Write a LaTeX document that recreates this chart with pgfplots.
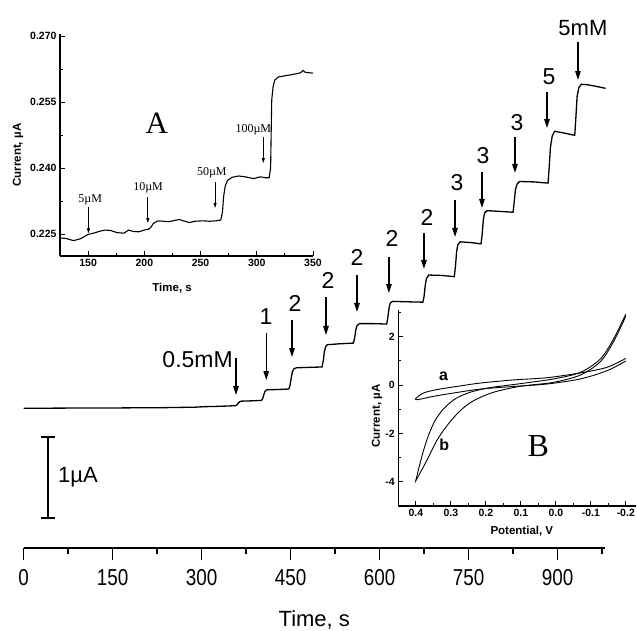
\documentclass[border=0pt]{standalone}
\usepackage{fontspec}
\setmainfont{Liberation Sans}
\newfontfamily\tnr{Liberation Serif}
\usepackage{graphicx}
\usepackage{pgfplots}
\pgfplotsset{compat=1.18}
\usetikzlibrary{arrows.meta}
\pgfplotsset{/pgf/number format/assume math mode=true}
\newcommand{\fbig}{\fontsize{23}{23}\selectfont}
\newcommand{\fsmall}{\fontsize{10.5}{10.5}\selectfont\bfseries}
\newcommand{\flab}{\fontsize{11.5}{11.5}\selectfont\bfseries}
\newcommand{\fnote}{\tnr\fontsize{12}{12}\selectfont}
\begin{document}
\begin{tikzpicture}[x=1pt,y=1pt]
\path[use as bounding box] (0,0) rectangle (637,631);

% main amperometric trace
\begin{axis}[
  at={(23.6pt,83pt)}, anchor=south west,
  scale only axis, width=581.4pt, height=548pt,
  xmin=0, xmax=980, ymin=-1.725, ymax=5.041,
  axis x line=bottom, axis y line=none,
  axis line style={-, line width=2.2pt},
  xtick={0,150,...,900}, minor xtick={75,225,...,975},
  tick align=outside, major tick length=12pt, minor tick length=6pt,
  every tick/.style={line width=1.6pt, black},
  xticklabel={\scalebox{0.82}[1]{\pgfmathprintnumber{\tick}}},
  xticklabel style={font=\fbig, anchor=center, yshift=-18pt},
  xlabel={Time, s},
  xlabel style={font=\fontsize{22}{22}\selectfont, anchor=center, at={(axis description cs:0.5,0)}, yshift=-72pt},
  clip=false,
]
\addplot[black, line width=1.3pt] coordinates {
  (0,0) (60,0.002) (150,0.004) (240,0.008) (290,0.014) (305,0.02) (320,0.022)
  (340,0.027) (357,0.032) (360,0.045) (362,0.065) (364,0.08) (367,0.088)
  (385,0.092) (401,0.097) (403,0.12) (405,0.17) (407,0.21) (410,0.228)
  (430,0.232) (447,0.238) (449,0.28) (451,0.37) (453,0.45) (456,0.49)
  (460,0.50) (480,0.505) (503,0.51) (505,0.58) (507,0.70) (509,0.76)
  (512,0.785) (530,0.795) (556,0.805) (558,0.87) (560,0.97) (562,1.02)
  (566,1.045) (590,1.045) (612,1.04) (614,1.12) (616,1.24) (618,1.30)
  (622,1.32) (645,1.315) (673,1.31) (675,1.38) (677,1.52) (679,1.60)
  (683,1.645) (705,1.64) (726,1.625) (728,1.76) (730,1.94) (732,2.02)
  (736,2.055) (755,2.045) (771,2.03) (773,2.15) (775,2.33) (777,2.41)
  (781,2.44) (805,2.43) (825,2.42) (827,2.55) (829,2.70) (832,2.77)
  (836,2.80) (860,2.795) (884,2.78) (886,2.98) (888,3.22) (891,3.36)
  (895,3.42) (910,3.40) (929,3.37) (931,3.60) (933,3.85) (936,3.96)
  (940,4.00) (950,3.995) (965,3.975) (981,3.95)
};
% additions
\tikzset{addarr/.style={-{Triangle[length=9pt,width=5.5pt]}, line width=1.3pt}}
\draw[addarr] (axis cs:358,0.621) -- (axis cs:358,0.164);
\draw[addarr] (axis cs:409,0.930) -- (axis cs:409,0.349);
\draw[addarr] (axis cs:452.4,1.09) -- (axis cs:452.4,0.633);
\draw[addarr] (axis cs:509.7,1.374) -- (axis cs:509.7,0.905);
\draw[addarr] (axis cs:561.9,1.646) -- (axis cs:561.9,1.189);
\draw[addarr] (axis cs:615.8,1.868) -- (axis cs:615.8,1.423);
\draw[addarr] (axis cs:674.8,2.164) -- (axis cs:674.8,1.72);
\draw[addarr] (axis cs:727.2,2.57) -- (axis cs:727.2,2.115);
\draw[addarr] (axis cs:772.6,2.917) -- (axis cs:772.6,2.473);
\draw[addarr] (axis cs:828.2,3.35) -- (axis cs:828.2,2.905);
\draw[addarr] (axis cs:882.2,3.905) -- (axis cs:882.2,3.46);
\draw[addarr] (axis cs:934.4,4.522) -- (axis cs:934.4,4.053);
\node[font=\fbig, anchor=east, inner sep=0pt] at (axis cs:352.9,0.597) {0.5mM};
\node[font=\fbig] at (axis cs:408.7,1.127) {1};
\node[font=\fbig] at (axis cs:457.4,1.30) {2};
\node[font=\fbig] at (axis cs:513,1.584) {2};
\node[font=\fbig] at (axis cs:561.9,1.856) {2};
\node[font=\fbig] at (axis cs:620.9,2.10) {2};
\node[font=\fbig] at (axis cs:679.9,2.35) {2};
\node[font=\fbig] at (axis cs:730.4,2.79) {3};
\node[font=\fbig] at (axis cs:774.3,3.12) {3};
\node[font=\fbig] at (axis cs:831.6,3.53) {3};
\node[font=\fbig] at (axis cs:885.5,4.10) {5};
\node[font=\fontsize{22}{22}\selectfont] at (axis cs:942.8,4.695) {5mM};
% scale bar
\draw[line width=1.5pt] (axis cs:41.1,-0.354) -- (axis cs:41.1,-1.354);
\draw[line width=1.5pt] (axis cs:29.3,-0.354) -- (axis cs:52.9,-0.354);
\draw[line width=1.5pt] (axis cs:29.3,-1.354) -- (axis cs:52.9,-1.354);
\node[font=\fontsize{22}{22}\selectfont, anchor=west, inner sep=0pt] at (axis cs:58,-0.848) {1µA};
\end{axis}

% inset A
\begin{axis}[
  at={(60pt,375pt)}, anchor=south west,
  scale only axis, width=253pt, height=222pt,
  xmin=125, xmax=350, ymin=0.220, ymax=0.2705,
  axis x line=bottom, axis y line=left,
  axis line style={-, line width=1.1pt},
  xtick={150,200,...,350}, minor xtick={175,225,...,325},
  ytick={0.225,0.240,0.255,0.270}, minor ytick={0.2325,0.2475,0.2625},
  tick align=inside, major tick length=4.5pt, minor tick length=2.5pt,
  every tick/.style={line width=1pt, black},
  scaled y ticks=false,
  ticklabel style={font=\fsmall},
  yticklabel style={/pgf/number format/fixed, /pgf/number format/precision=3, /pgf/number format/fixed zerofill},
  clip=false,
]
\addplot[black, line width=1.1pt] coordinates {
  (125,0.2241) (130,0.2240) (137,0.2235) (143,0.2239) (150,0.2249) (155,0.2252)
  (160,0.2256) (165,0.2259) (170,0.2258) (176,0.2253) (182,0.2252) (186,0.2259)
  (190,0.2256) (195,0.2255) (200,0.2259) (204,0.2261) (206,0.2266) (208,0.2274)
  (212,0.2280) (217,0.2279) (222,0.2278) (227,0.2281) (231,0.2283) (236,0.2279)
  (240,0.2276) (245,0.2279) (252,0.2280) (258,0.2279) (264,0.2280) (268,0.2282)
  (269.5,0.2300) (270.5,0.2335) (272,0.2360) (274,0.2372) (278,0.2379) (284,0.2382)
  (290,0.2380) (297,0.2376) (303,0.2380) (308,0.2378) (311,0.2378) (312.3,0.2400)
  (312.8,0.2480) (313.3,0.2555) (314.5,0.2585) (316,0.2600) (319,0.2607) (325,0.2610)
  (330,0.2612) (336,0.2615) (339,0.2617) (341,0.2622) (343,0.2618) (346,0.2617)
  (350,0.2616)
};
\tikzset{smarr/.style={-{Triangle[length=5pt,width=3pt]}, line width=0.8pt}}
\draw[smarr] (axis cs:150.3,0.2312) -- (axis cs:150.3,0.22516);
\draw[smarr] (axis cs:203.1,0.23341) -- (axis cs:203.1,0.2275);
\draw[smarr] (axis cs:262.9,0.23682) -- (axis cs:262.9,0.23091);
\draw[smarr] (axis cs:305.8,0.24705) -- (axis cs:305.8,0.24114);
\node[font=\fnote] at (axis cs:151.8,0.23273) {5µM};
\node[font=\fnote] at (axis cs:203.3,0.23545) {10µM};
\node[font=\fnote] at (axis cs:260,0.23893) {50µM};
\node[font=\fnote] at (axis cs:296.9,0.2488) {100µM};
\node[font=\tnr\fontsize{31}{31}\selectfont] at (axis cs:211.1,0.25016) {A};
\node[font=\flab] at (axis cs:224.7,0.21273) {Time, s};
\node[font=\flab, rotate=90] at (axis cs:87.8,0.24295) {Current, µA};
\end{axis}

% inset B
\begin{axis}[
  at={(398.3pt,125pt)}, anchor=south west,
  scale only axis, width=238pt, height=196pt,
  xmin=-0.23, xmax=0.45, ymin=-5, ymax=3.1, x dir=reverse,
  axis x line=bottom, axis y line=left,
  axis line style={-, line width=1.1pt},
  xtick={-0.2,-0.1,0,0.1,0.2,0.3,0.4}, minor xtick={-0.15,-0.05,0.05,0.15,0.25,0.35},
  ytick={-4,-2,0,2}, minor ytick={-3,-1,1,3},
  tick align=inside, major tick length=4.5pt, minor tick length=2.5pt,
  every tick/.style={line width=1pt, black},
  ticklabel style={font=\fsmall},
  xticklabel style={/pgf/number format/fixed, /pgf/number format/precision=1, /pgf/number format/fixed zerofill},
  clip=false,
]
% curve a, two branches
\addplot[black, line width=0.9pt, smooth] coordinates {
  (0.4,-0.55) (0.378,-0.33) (0.34,-0.19) (0.283,-0.06) (0.216,0.08) (0.121,0.21)
  (0.026,0.30) (-0.07,0.50) (-0.146,0.73) (-0.2,1.10)
};
\addplot[black, line width=0.9pt, smooth] coordinates {
  (-0.2,0.99) (-0.146,0.59) (-0.07,0.25) (0.026,0.04) (0.121,-0.06) (0.216,-0.17)
  (0.292,-0.33) (0.35,-0.47) (0.397,-0.61) (0.4,-0.55)
};
% curve b, two branches
\addplot[black, line width=0.9pt, smooth] coordinates {
  (0.4,-3.95) (0.3895,-3.33) (0.378,-2.71) (0.364,-2.09) (0.345,-1.47) (0.321,-0.99)
  (0.288,-0.58) (0.245,-0.30) (0.188,-0.11) (0.102,0.055) (0.007,0.25) (-0.07,0.52)
  (-0.127,1.07) (-0.165,1.90) (-0.2,2.93)
};
\addplot[black, line width=0.9pt, smooth] coordinates {
  (-0.2,2.84) (-0.165,1.79) (-0.127,0.96) (-0.07,0.41) (0.007,0.11) (0.102,-0.055)
  (0.178,-0.30) (0.235,-0.65) (0.273,-1.06) (0.311,-1.68) (0.34,-2.30) (0.369,-3.13)
  (0.397,-3.88) (0.4,-3.95)
};
\node[font=\fontsize{16}{16}\selectfont\bfseries] at (axis cs:0.321,0.36) {a};
\node[font=\fontsize{16}{16}\selectfont\bfseries] at (axis cs:0.319,-2.48) {b};
\node[font=\tnr\fontsize{32}{32}\selectfont] at (axis cs:0.05,-2.51) {B};
\node[font=\flab] at (axis cs:0.097,-6.03) {Potential, V};
\node[font=\flab, rotate=90] at (axis cs:0.5106,-1.28) {Current, µA};
\end{axis}
\end{tikzpicture}
\end{document}
